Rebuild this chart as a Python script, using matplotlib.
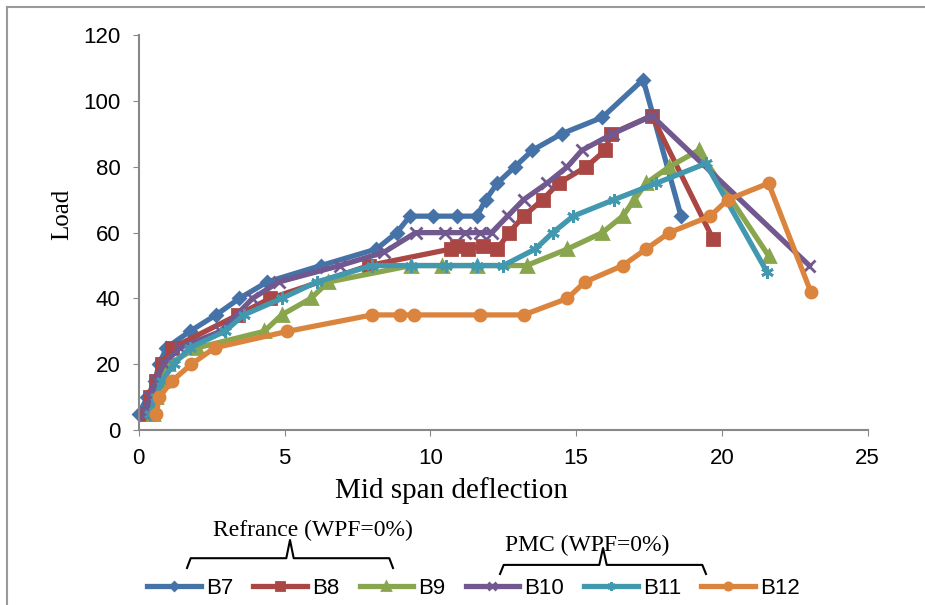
import matplotlib
matplotlib.use("Agg")
import matplotlib.pyplot as plt
from matplotlib.lines import Line2D

# load-deflection data
b7_x = [0, 0.3, 0.55, 0.7, 0.95, 1.75, 2.65, 3.45, 4.4, 6.25, 8.15, 8.85, 9.3, 10.1, 10.9, 11.6,
        11.9, 12.3, 12.9, 13.5, 14.5, 15.9, 17.3, 18.6]
b7_y = [5, 10, 15, 20, 25, 30, 35, 40, 45, 50, 55, 60, 65, 65, 65, 65, 70, 75, 80, 85, 90, 95, 106.5, 65]

b8_x = [0.3, 0.4, 0.6, 0.8, 1.15, 3.4, 4.5, 7.9, 10.7, 10.9, 11.3, 11.8, 12.3, 12.7, 13.2, 13.85,
        14.4, 15.35, 16.0, 16.2, 17.6, 19.7]
b8_y = [5, 10, 15, 20, 25, 35, 40, 50, 55, 56, 55, 56, 55, 60, 65, 70, 75, 80, 85, 90, 95.5, 58]

b9_x = [0.5, 0.6, 0.8, 1.0, 2.0, 4.3, 4.9, 5.9, 6.5, 9.35, 10.4, 11.6, 13.3, 14.7, 15.9, 16.6,
        17.0, 17.4, 18.2, 19.2, 21.6]
b9_y = [5, 10, 15, 20, 25, 30, 35, 40, 45, 50, 50, 50, 50, 55, 60, 65, 70, 75, 80, 85, 53]

b10_x = [0.2, 0.4, 0.6, 0.85, 1.4, 2.8, 3.9, 4.8, 6.9, 8.4, 9.5, 10.5, 11.2, 11.7, 12.1, 12.65,
         13.2, 14.0, 14.7, 15.2, 16.25, 17.6, 23.0]
b10_y = [5, 10, 15, 20, 25, 30, 40, 45, 50, 54, 60, 60, 60, 60, 60, 65, 70, 75, 80, 85, 90, 95.5, 50]

b11_x = [0.4, 0.6, 0.8, 1.2, 1.75, 2.95, 3.6, 4.9, 6.1, 8.0, 9.35, 10.55, 11.6, 12.5, 13.6, 14.2,
         14.9, 16.3, 17.75, 19.45, 21.55]
b11_y = [5, 10, 15, 20, 25, 30, 35, 40, 45, 50, 50, 50, 50, 50, 55, 60, 65, 70, 75, 81, 48]

b12_x = [0.6, 0.7, 1.15, 1.8, 2.6, 5.1, 8.0, 8.95, 9.45, 11.7, 13.2, 14.7, 15.3, 16.6, 17.4, 18.2,
         19.6, 20.2, 21.6, 23.05]
b12_y = [5, 10, 15, 20, 25, 30, 35, 35, 35, 35, 35, 40, 45, 50, 55, 60, 65, 70, 75, 42]

names = ["B7", "B8", "B9", "B10", "B11", "B12"]
colors = ["#4572A7", "#AA4643", "#89A54E", "#71588F", "#4198AF", "#DB843D"]
markers = ["D", "s", "^", "x", (6, 2, 0), "o"]
msizes = [6, 8, 8, 8, 9, 8]

xticks = [0, 5, 10, 15, 20, 25]
yticks = [0, 20, 40, 60, 80, 100, 120]

plt.rcParams['font.family'] = ['Liberation Sans Narrow', 'Liberation Sans', 'DejaVu Sans']
serif = ['Liberation Serif', 'DejaVu Serif']

fig = plt.figure(figsize=(9.25, 6.05), dpi=100)
ax = fig.add_axes([0.150, 0.289, 0.788, 0.653])

series = [(b7_x, b7_y), (b8_x, b8_y), (b9_x, b9_y), (b10_x, b10_y), (b11_x, b11_y), (b12_x, b12_y)]
for (xs, ys), nm, c, m, ms in zip(series, names, colors, markers, msizes):
    ax.plot(xs, ys, color=c, lw=3.8, marker=m, markersize=ms, mew=2, label=nm, clip_on=False)

ax.set_xlim(0, 25)
ax.set_ylim(0, 120)
ax.set_xticks(xticks)
ax.set_yticks(yticks)
ax.tick_params(labelsize=16, length=4, color="#888888", pad=9)
for s in ["top", "right"]:
    ax.spines[s].set_visible(False)
for s in ["left", "bottom"]:
    ax.spines[s].set_color("#888888")
    ax.spines[s].set_linewidth(1.5)

fig.text(0.067, 0.645, "Load", rotation=90, ha="center", va="center", fontsize=18, family=serif)
fig.text(0.488, 0.19, "Mid span deflection", ha="center", va="center", fontsize=21, family=serif)
fig.text(0.338, 0.124, "Refrance (WPF=0%)", ha="center", va="center", fontsize=17, family=serif)
fig.text(0.635, 0.099, "PMC (WPF=0%)", ha="center", va="center", fontsize=17, family=serif)

# curly brackets above the legend
def brace(x0, x1, ytop, ybot):
    xm = (x0 + x1) / 2
    yb = ybot + (ytop - ybot) * 0.35
    xs = [x0, x0 + 0.004, xm - 0.004, xm, xm + 0.004, x1 - 0.004, x1]
    ys = [ybot, yb, yb, ytop, yb, yb, ybot]
    fig.add_artist(Line2D(xs, ys, color="black", lw=1.5, transform=fig.transFigure))

brace(187 / 925, 393 / 925, 1 - 540 / 605, 1 - 568 / 605)
brace(500 / 925, 706 / 925, 1 - 548 / 605, 1 - 574 / 605)

# outer frame (cut off at right and bottom)
fig.add_artist(Line2D([7 / 925, 1], [1 - 7 / 605, 1 - 7 / 605], color="#999999", lw=1.5,
                      transform=fig.transFigure))
fig.add_artist(Line2D([7 / 925, 7 / 925], [1 - 7 / 605, 0], color="#999999", lw=1.5,
                      transform=fig.transFigure))

fig.legend(loc="center", bbox_to_anchor=(0.512, 0.028), ncol=6, frameon=False, fontsize=16,
           handlelength=2.4, columnspacing=0.9, handletextpad=0.25, markerscale=0.65)

fig.savefig("out.png", dpi=100)
